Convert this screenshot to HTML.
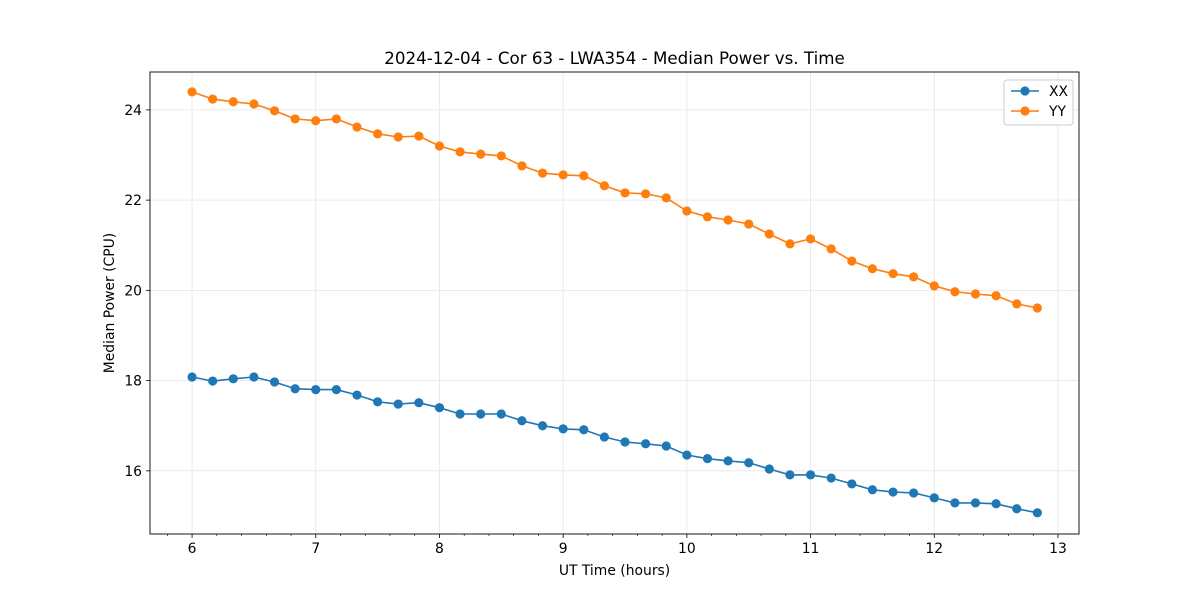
<!DOCTYPE html>
<html><head><meta charset="utf-8"><style>
html,body{margin:0;padding:0;background:#fff;}
svg{display:block;font-family:"DejaVu Sans","Liberation Sans",sans-serif;}
</style></head><body>
<svg id="chart" width="1200" height="600" xmlns="http://www.w3.org/2000/svg"></svg>
<script>
const times = [];
for (let i = 0; i < 42; i++) times.push(6 + i / 6);
const xxValues = [18.08,17.99,18.04,18.08,17.97,17.82,17.80,17.80,17.68,17.53,17.48,17.51,17.40,17.26,17.26,17.26,17.11,17.00,16.93,16.91,16.75,16.64,16.60,16.55,16.35,16.27,16.22,16.18,16.04,15.91,15.91,15.84,15.71,15.58,15.53,15.51,15.40,15.29,15.29,15.27,15.16,15.07];
const yyValues = [24.40,24.24,24.18,24.13,23.98,23.80,23.76,23.80,23.62,23.47,23.40,23.42,23.20,23.07,23.02,22.98,22.76,22.60,22.56,22.54,22.32,22.16,22.14,22.05,21.76,21.63,21.56,21.47,21.25,21.03,21.14,20.92,20.65,20.48,20.37,20.30,20.10,19.97,19.92,19.88,19.70,19.61];
const xTicks = [6,7,8,9,10,11,12,13];
const yTicks = [16,18,20,22,24];

const L=150,R=1079,T=72,B=534;
const xMin=5.66,xMax=13.17,yMin=14.60,yMax=24.84;
const xs=v=>L+(v-xMin)/(xMax-xMin)*(R-L);
const ys=v=>B-(v-yMin)/(yMax-yMin)*(B-T);
const svg=document.getElementById('chart');
const NS='http://www.w3.org/2000/svg';
function mk(tag,attrs,parent){const e=document.createElementNS(NS,tag);for(const k in attrs)e.setAttribute(k,attrs[k]);(parent||svg).appendChild(e);return e;}

xTicks.forEach(t=>{const l=mk('line',{x1:xs(t),x2:xs(t),y1:T,y2:B,stroke:'#e5e5e5','stroke-width':0.8});

});
yTicks.forEach(t=>{const l=mk('line',{x1:L,x2:R,y1:ys(t),y2:ys(t),stroke:'#e5e5e5','stroke-width':0.8});

});

function series(vals,color,name){
  const g=mk('g',{});
  
  
  const pts=vals.map((v,i)=>xs(times[i]).toFixed(1)+','+ys(v).toFixed(1)).join(' ');
  mk('polyline',{points:pts,fill:'none',stroke:color,'stroke-width':1.6},g);
  vals.forEach((v,i)=>{const c=mk('circle',{cx:xs(times[i]),cy:ys(v),r:4.6,fill:color},g);
  
  });
}
series(xxValues,'#1f77b4','xx');
series(yyValues,'#ff7f0e','yy');

const fr=mk('rect',{x:L,y:T,width:R-L,height:B-T,fill:'none',stroke:'#000','stroke-width':0.9});



xTicks.forEach(t=>{mk('line',{x1:xs(t),x2:xs(t),y1:B,y2:B+4,stroke:'#000','stroke-width':0.8});
const tx=mk('text',{x:xs(t),y:B+19,'text-anchor':'middle','font-size':13.9});tx.textContent=t;

});
for(let m=5.8;m<13.15;m+=0.2){if(Math.abs(m-Math.round(m))<0.01)continue;mk('line',{x1:xs(m),x2:xs(m),y1:B,y2:B+2,stroke:'#000','stroke-width':0.6});}
yTicks.forEach(t=>{mk('line',{x1:L-4,x2:L,y1:ys(t),y2:ys(t),stroke:'#000','stroke-width':0.8});
const tx=mk('text',{x:L-8,y:ys(t)+5,'text-anchor':'end','font-size':13.9});tx.textContent=t;

});

let e=mk('text',{x:(L+R)/2,y:575,'text-anchor':'middle','font-size':13.9});e.textContent='UT Time (hours)';


e=mk('text',{x:114,y:(T+B)/2,'text-anchor':'middle','font-size':13.9,transform:'rotate(-90 114 '+((T+B)/2)+')'});e.textContent='Median Power (CPU)';


e=mk('text',{x:(L+R)/2,y:64,'text-anchor':'middle','font-size':16.7});e.textContent='2024-12-04 - Cor 63 - LWA354 - Median Power vs. Time';



const lg=mk('g',{});


mk('rect',{x:1004,y:80,width:69,height:45,rx:3,fill:'#fff',stroke:'#ccc','stroke-width':1},lg);
[['XX','#1f77b4',91],['YY','#ff7f0e',111]].forEach(([n,c,y])=>{
  mk('line',{x1:1011,x2:1039,y1:y,y2:y,stroke:c,'stroke-width':1.6},lg);
  mk('circle',{cx:1025,cy:y,r:4.6,fill:c},lg);
  const t=mk('text',{x:1049,y:y+5,'font-size':13.9},lg);t.textContent=n;
  
  
});
</script>
</body></html>
